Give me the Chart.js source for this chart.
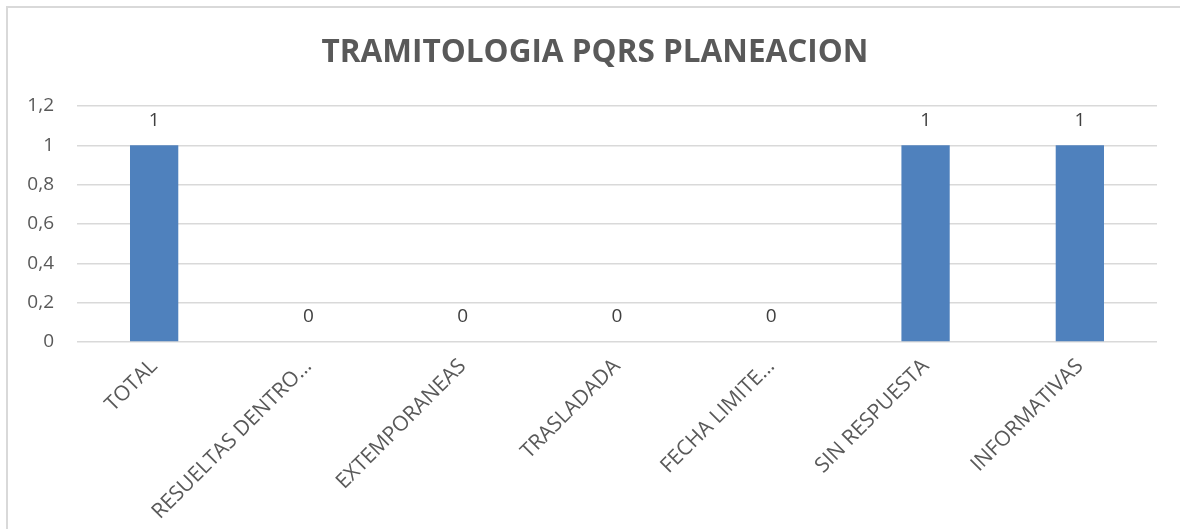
<!DOCTYPE html>
<html>
<head>
<meta charset="utf-8">
<script src="https://cdn.jsdelivr.net/npm/chart.js@4"></script>
<style>
  html, body { margin: 0; padding: 0; background: #ffffff; overflow: hidden; }
  #marco { position: absolute; left: 6px; top: 6px; width: 1300px; height: 700px; border: 2px solid #d9d9d9; }
  #lienzo { position: absolute; left: 0; top: 0; width: 1180px; height: 529px; }
</style>
</head>
<body>
<div id="marco"></div>
<div id="lienzo"><canvas id="grafico"></canvas></div>
<script>
const titulo = 'TRAMITOLOGIA PQRS PLANEACION';
const categorias = ['TOTAL', 'RESUELTAS DENTRO…', 'EXTEMPORANEAS', 'TRASLADADA', 'FECHA LIMITE…', 'SIN RESPUESTA', 'INFORMATIVAS'];
const valores = [1, 0, 0, 0, 0, 1, 1];
const ticksY = [0, 0.2, 0.4, 0.6, 0.8, 1, 1.2];

const GRIS_TEXTO = '#595959';
const FUENTE = "'Open Sans', 'Liberation Sans', sans-serif";

// titulo centrado sobre todo el marco (no solo el area del grafico)
const tituloMarco = {
    id: 'tituloMarco',
    afterDraw(chart) {
        const ctx = chart.ctx;
        ctx.save();
        ctx.font = 'bold 31.5px ' + FUENTE;
        ctx.fillStyle = GRIS_TEXTO;
        ctx.textAlign = 'center';
        ctx.textBaseline = 'middle';
        ctx.fillText(titulo, 595, 53);
        ctx.restore();
    }
};

// etiquetas de valor encima de las barras
const etiquetasValor = {
    id: 'etiquetasValor',
    afterDatasetsDraw(chart) {
        const ctx = chart.ctx;
        const meta = chart.getDatasetMeta(0);
        ctx.save();
        ctx.font = '19px ' + FUENTE;
        ctx.fillStyle = '#404040';
        ctx.textAlign = 'center';
        ctx.textBaseline = 'middle';
        meta.data.forEach((barra, i) => {
            ctx.fillText(String(valores[i]).replace('.', ','), barra.x, barra.y - 25);
        });
        ctx.restore();
    }
};

const ctx = document.getElementById('grafico').getContext('2d');
new Chart(ctx, {
    type: 'bar',
    data: {
        labels: categorias,
        datasets: [{
            data: valores,
            backgroundColor: '#4f81bd',
            borderWidth: 0,
            categoryPercentage: 1,
            barPercentage: 0.313
        }]
    },
    options: {
        responsive: true,
        maintainAspectRatio: false,
        animation: false,
        layout: { padding: { left: 0, right: 23, top: 106, bottom: 0 } },
        plugins: {
            legend: { display: false },
            tooltip: { enabled: false },
            title: { display: false }
        },
        scales: {
            x: {
                grid: { display: false },
                border: { display: false },
                ticks: {
                    color: GRIS_TEXTO,
                    font: { family: FUENTE, size: 21 },
                    minRotation: 45,
                    maxRotation: 45,
                    autoSkip: false,
                    padding: 4
                },
                afterFit(escala) { escala.height = 187; }
            },
            y: {
                min: 0,
                max: 1.2,
                grid: { color: '#d9d9d9', lineWidth: 1.5, drawTicks: false },
                border: { display: false },
                afterBuildTicks(escala) { escala.ticks = ticksY.map(v => ({ value: v })); },
                ticks: {
                    color: GRIS_TEXTO,
                    font: { family: FUENTE, size: 19 },
                    padding: 23,
                    callback: v => String(Math.round(v * 10) / 10).replace('.', ',')
                },
                afterFit(escala) { escala.width = 77; }
            }
        }
    },
    plugins: [etiquetasValor, tituloMarco]
});
</script>
</body>
</html>
